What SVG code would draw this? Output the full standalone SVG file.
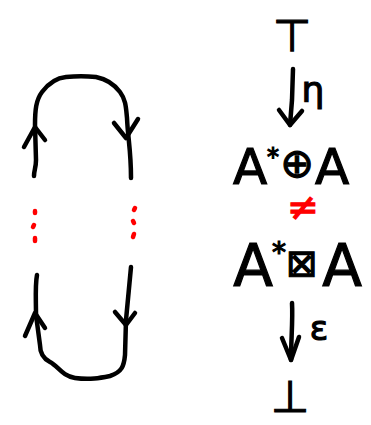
<svg xmlns="http://www.w3.org/2000/svg" width="371" height="425" viewBox="0 0 371 425">
<style>
.s{fill:none;stroke:#000;stroke-width:4.5;stroke-linecap:round;stroke-linejoin:round}
.r{fill:none;stroke:#f00;stroke-width:4.5;stroke-linecap:round}
.t{font-family:"DejaVu Sans",sans-serif;fill:#000;stroke:#000;stroke-width:1.2;text-anchor:middle}
.tr{font-family:"DejaVu Sans",sans-serif;fill:#f00;stroke:#f00;stroke-width:1.2;text-anchor:middle}
</style>
<rect width="371" height="425" fill="#fff"/>
<g id="connectors">
<path class="s" d="M34,176 C34,170 36,168 36,160 L35,125 C35,110 36,100 42,92 C48,84 56,78 66,77 C76,76 86,76 96,77 C106,79 114,84 120,92 C126,100 126,108 127,118 C128,140 131,150 131,178"/>
<path class="s" d="M24,147 L35,127 L45,140"/>
<path class="s" d="M114,123 L126,138 L138,119"/>
<path class="s" d="M37,275 C35,285 36,300 36,315 L40,345 C40,352 42,358 50,362 C58,366 62,376 75,378 C90,380 100,378 110,376 C122,372 124,366 125,355 L126,320 L131,267"/>
<path class="s" d="M25,336 L35,313 L45,328"/>
<path class="s" d="M115,312 L126,325 L135,313"/>
<path class="r" d="M35,211 L35,213 M34,225 L33,227 M35,238 L35,241"/>
<path class="r" d="M135,208 L134,210 M133,221 L134,223 M134,234 L133,237"/>
<path class="s" d="M293,69 L292,100 L290,125"/>
<path class="s" d="M279,110 L290,125 L302,111"/>
<path class="s" d="M292,303 C293,320 291,340 291,360"/>
<path class="s" d="M282,338 L291,360 L299,337"/>
</g>
<g id="top"><text class="t" x="292" y="51" font-size="44">⊤</text></g>
<g id="eta"><text class="t" x="313" y="102" font-size="36">η</text></g>
<g id="sum">
<text class="t" x="250" y="184" font-size="50">A</text>
<text class="t" x="273" y="165" font-size="24">*</text>
<text class="t" x="297" y="177" font-size="40">⊕</text>
<text class="t" x="332" y="184" font-size="50">A</text>
</g>
<g id="neq"><text class="tr" x="303" y="220" font-size="38">≠</text></g>
<g id="tensor">
<text class="t" x="253" y="286" font-size="58">A</text>
<text class="t" x="279" y="262" font-size="28">*</text>
<text class="t" x="302" y="276" font-size="38">⊠</text>
<text class="t" x="342" y="286" font-size="58">A</text>
</g>
<g id="eps"><text class="t" x="319" y="340" font-size="34">ε</text></g>
<g id="bot"><text class="t" x="290" y="412" font-size="44">⊥</text></g>
</svg>
